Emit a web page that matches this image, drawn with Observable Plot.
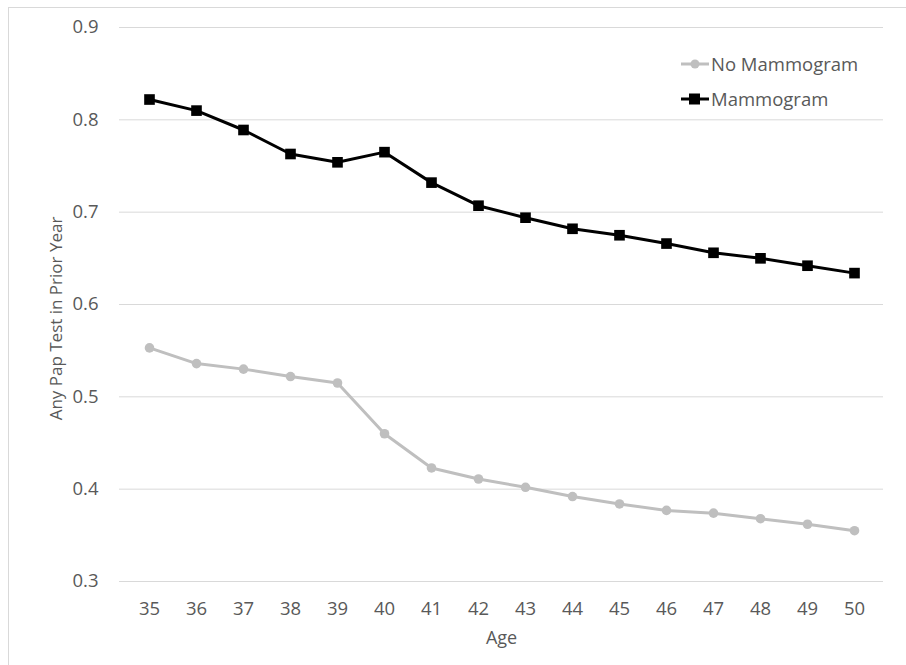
<!DOCTYPE html>
<html><head><meta charset="utf-8">
<script src="https://cdn.jsdelivr.net/npm/d3@7"></script>
<script src="https://cdn.jsdelivr.net/npm/@observablehq/plot@0.6"></script>
<style>
body{margin:0;background:#fff;}
#wrap{position:relative;width:906px;height:665px;overflow:hidden;font-family:"Open Sans",sans-serif;background:#fff;}
#frame{position:absolute;left:8px;top:7px;width:920px;height:700px;border:1px solid #d9d9d9;box-sizing:border-box;pointer-events:none;}
#chart{position:absolute;left:0;top:0;}
#legend{position:absolute;left:681px;top:46px;font-size:18.5px;color:#595959;line-height:35px;}
#legend div{display:flex;align-items:center;white-space:nowrap;}
#legend svg{margin-right:2px;}
</style></head>
<body>
<div id="wrap">
  <div id="chart"></div>
  <div id="frame"></div>
  <div id="legend"></div>
</div>
<script>
const ages = [35,36,37,38,39,40,41,42,43,44,45,46,47,48,49,50];
const noMammogram = [0.553,0.536,0.530,0.522,0.515,0.460,0.423,0.411,0.402,0.392,0.384,0.377,0.374,0.368,0.362,0.355];
const mammogram = [0.822,0.810,0.789,0.763,0.754,0.765,0.732,0.707,0.694,0.682,0.675,0.666,0.656,0.650,0.642,0.634];
const yTicks = [0.3,0.4,0.5,0.6,0.7,0.8,0.9];
const seriesNames = ["No Mammogram","Mammogram"];
const xTitle = "Age";
const yTitle = "Any Pap Test in Prior Year";

const rowsNo = ages.map((a,i)=>({age:a, value:noMammogram[i]}));
const rowsM = ages.map((a,i)=>({age:a, value:mammogram[i]}));

const textColor = "#595959";
const gray = "#bfbfbf";

const chart = Plot.plot({
  width: 906,
  height: 665,
  marginLeft: 119,
  marginRight: 23,
  marginTop: 27,
  marginBottom: 84,
  style: {fontFamily: '"Open Sans", sans-serif', fontSize: "18px", color: textColor, background: "transparent"},
  x: {type: "point", domain: ages, padding: 0.5, label: null},
  y: {domain: [0.3, 0.9], label: null},
  marks: [
    Plot.gridY(yTicks, {stroke: "#d9d9d9", strokeOpacity: 1, strokeWidth: 1}),
    Plot.axisY(yTicks, {tickSize: 0, tickPadding: 21, tickFormat: d3.format(".1f"), fill: textColor, fontSize: 18.5, label: null}),
    Plot.axisX(ages, {tickSize: 0, tickPadding: 20, fill: textColor, fontSize: 18.5, label: null}),
    Plot.line(rowsNo, {x: "age", y: "value", stroke: gray, strokeWidth: 3}),
    Plot.dot(rowsNo, {x: "age", y: "value", r: 4.8, fill: gray, stroke: null}),
    Plot.line(rowsM, {x: "age", y: "value", stroke: "black", strokeWidth: 3}),
    Plot.dot(rowsM, {x: "age", y: "value", symbol: "square", r: 6, fill: "black", stroke: null}),
    Plot.text([xTitle], {frameAnchor: "bottom", dy: 57, fill: textColor, fontSize: 18, lineAnchor: "middle"}),
    Plot.text([yTitle], {frameAnchor: "left", textAnchor: "middle", dx: -63, dy: 14, rotate: -90, fill: textColor, fontSize: 17, lineAnchor: "middle"})
  ]
});
document.getElementById("chart").appendChild(chart);

const legend = document.getElementById("legend");
const legendStyles = [
  {stroke: gray, marker: `<circle cx="14" cy="7" r="4.5" fill="${gray}"/>`},
  {stroke: "black", marker: `<rect x="8" y="1.5" width="11" height="11" fill="black"/>`}
];
seriesNames.forEach((name, i) => {
  const row = document.createElement("div");
  row.innerHTML = `<svg width="28" height="14"><line x1="0" x2="28" y1="7" y2="7" stroke="${legendStyles[i].stroke}" stroke-width="3"/>${legendStyles[i].marker}</svg><span>${name}</span>`;
  legend.appendChild(row);
});
</script>
</body></html>
